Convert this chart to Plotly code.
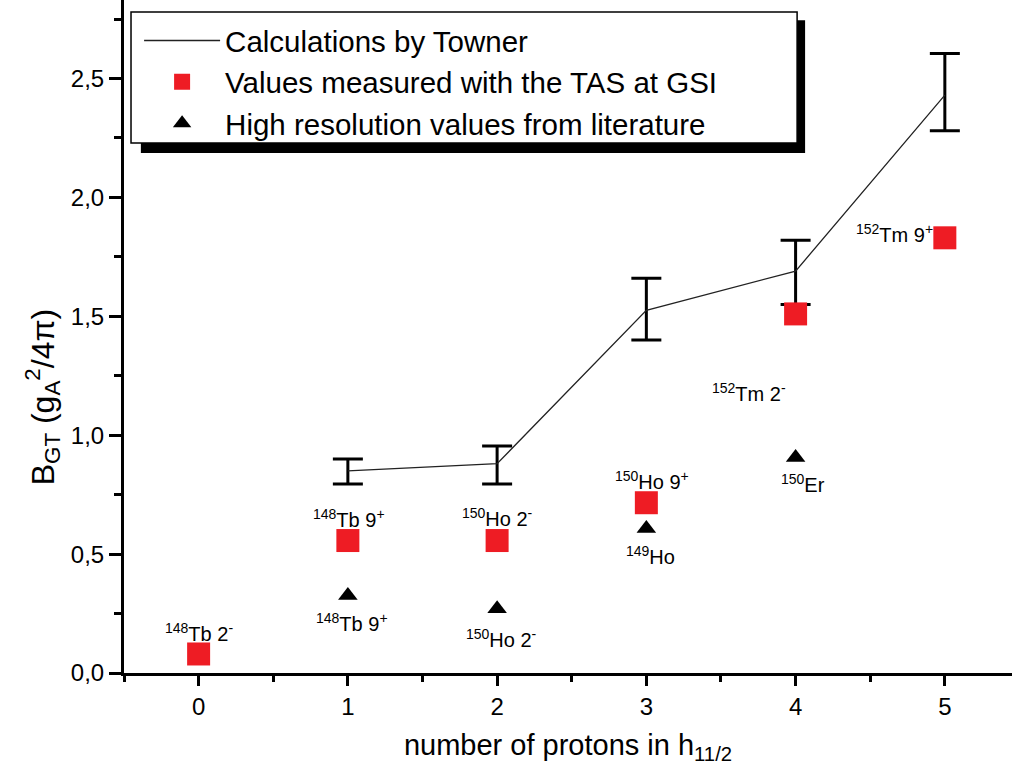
import plotly.graph_objects as go

# Number of protons in the h11/2 orbital
n_protons = [0, 1, 2, 3, 4, 5]

# Shell-model calculations (Towner) with asymmetric uncertainties
towner_x = [1, 2, 3, 4, 5]
towner_bgt = [0.85, 0.88, 1.525, 1.69, 2.43]
towner_err_plus = [0.05, 0.075, 0.135, 0.13, 0.175]
towner_err_minus = [0.055, 0.085, 0.125, 0.14, 0.15]

# Total absorption spectrometer results (GSI)
tas_x = [0, 1, 2, 3, 4, 5]
tas_bgt = [0.08, 0.557, 0.557, 0.716, 1.51, 1.83]

# High resolution literature values
lit_x = [1, 2, 3, 4]
lit_bgt = [0.326, 0.27, 0.608, 0.906]

# Nuclide labels
label_text = [
    "<sup>148</sup>Tb 2<sup>-</sup>",
    "<sup>148</sup>Tb 9<sup>+</sup>",
    "<sup>150</sup>Ho 2<sup>-</sup>",
    "<sup>148</sup>Tb 9<sup>+</sup>",
    "<sup>150</sup>Ho 2<sup>-</sup>",
    "<sup>150</sup>Ho 9<sup>+</sup>",
    "<sup>149</sup>Ho",
    "<sup>152</sup>Tm 2<sup>-</sup>",
    "<sup>150</sup>Er",
    "<sup>152</sup>Tm 9<sup>+</sup>",
]
label_x = [0.0, 1.03, 2.03, 1.01, 2.0, 3.04, 3.03, 3.69, 4.05, 4.66]
label_y = [0.17, 0.212, 0.145, 0.65, 0.654, 0.81, 0.494, 1.18, 0.797, 1.85]

FONT = "Liberation Sans, Arial, Helvetica, sans-serif"

fig = go.Figure()

# error bars of the calculation (kept out of the legend)
fig.add_trace(go.Scatter(
    x=towner_x, y=towner_bgt, mode="markers",
    marker=dict(size=1, color="rgba(0,0,0,0)"),
    error_y=dict(type="data", symmetric=False, array=towner_err_plus,
                 arrayminus=towner_err_minus, color="black",
                 thickness=3, width=15),
    showlegend=False, hoverinfo="skip",
))

fig.add_trace(go.Scatter(
    x=towner_x, y=towner_bgt, mode="lines",
    line=dict(color="#222222", width=1.3),
    name="Calculations by Towner", legendgroup="a",
))

fig.add_trace(go.Scatter(
    x=tas_x, y=tas_bgt, mode="markers",
    marker=dict(symbol="square", size=23, color="#ee1c24"),
    name="Values measured with the TAS at GSI", legendgroup="b",
))

fig.add_trace(go.Scatter(
    x=lit_x, y=lit_bgt, mode="markers",
    marker=dict(symbol="triangle-up", size=17, color="black"),
    name="High resolution values from literature", legendgroup="c",
))

for t, x, y in zip(label_text, label_x, label_y):
    fig.add_annotation(x=x, y=y, text=t, showarrow=False,
                       xanchor="center", yanchor="middle",
                       font=dict(family=FONT, size=20, color="black"))

# rotated y-axis title
fig.add_annotation(
    xref="paper", yref="paper", x=-0.092, y=0.41,
    text="B<sub>GT</sub> (g<sub>A</sub><sup>2</sup>/4π)",
    textangle=-90, showarrow=False, xanchor="center", yanchor="middle",
    font=dict(family=FONT, size=32, color="black"),
)

# legend frame with drop shadow
fig.add_shape(type="rect", xref="paper", yref="paper",
              x0=0.019, x1=0.767, y0=0.7727, y1=0.970,
              fillcolor="black", line=dict(width=0), layer="above")
fig.add_shape(type="rect", xref="paper", yref="paper",
              x0=0.0079, x1=0.758, y0=0.7875, y1=0.982,
              fillcolor="white", line=dict(color="black", width=1.5),
              layer="above")

fig.update_layout(
    width=1012, height=779,
    margin=dict(l=124, r=0, t=0, b=106, pad=0),
    paper_bgcolor="white", plot_bgcolor="white",
    separators=",.",
    font=dict(family=FONT, color="black"),
    showlegend=True,
    legend=dict(
        x=0.017, y=0.978, xanchor="left", yanchor="top",
        bgcolor="rgba(0,0,0,0)", borderwidth=0,
        font=dict(family=FONT, size=29.5, color="black"),
        itemwidth=76, tracegroupgap=0, traceorder="normal",
    ),
    xaxis=dict(
        range=[-0.5, 5.45], tickmode="linear", tick0=0, dtick=1,
        showline=True, linewidth=3, linecolor="black",
        ticks="outside", ticklen=10, tickwidth=3, tickcolor="black",
        minor=dict(ticks="outside", ticklen=6, tickwidth=3,
                   tickcolor="black", dtick=0.5, tick0=0),
        showgrid=False, zeroline=False,
        tickfont=dict(family=FONT, size=24),
        title=dict(text="number of protons in h<sub>11/2</sub>",
                   font=dict(family=FONT, size=29), standoff=16),
    ),
    yaxis=dict(
        range=[0, 2.83], tickmode="linear", tick0=0, dtick=0.5,
        tickformat=".1f",
        showline=True, linewidth=3, linecolor="black",
        ticks="outside", ticklen=12, tickwidth=3, tickcolor="black",
        minor=dict(ticks="outside", ticklen=7, tickwidth=3,
                   tickcolor="black", dtick=0.25, tick0=0),
        showgrid=False, zeroline=False,
        tickfont=dict(family=FONT, size=24),
    ),
)

fig.write_html("out.html")
